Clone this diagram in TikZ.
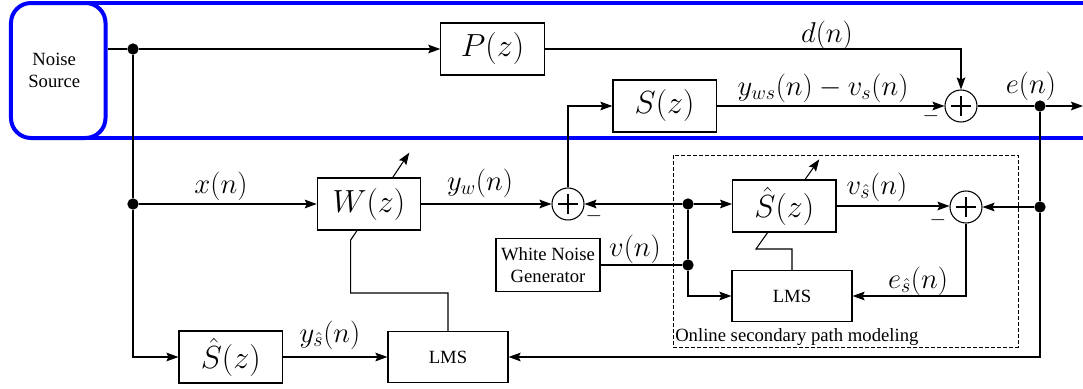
\RequirePackage{fix-cm}
\documentclass[tikz,border=0pt]{standalone}
\usepackage{fontspec}
\newfontfamily\tnr{Liberation Serif}
\usetikzlibrary{arrows.meta,backgrounds}
\newcommand\bxfont{\fontsize{24}{28}\selectfont}
\newcommand\sgfont{\fontsize{21.5}{25}\selectfont}
\newcommand\txfont{\fontsize{14}{16.5}\selectfont\tnr}
\newcommand\mnfont{\fontsize{16}{19}\selectfont}
\tikzset{
  wire/.style={line width=0.8pt},
  arr/.style={wire, -{Stealth[length=9pt,width=6.5pt,inset=1.5pt]}},
  blk/.style={draw, line width=0.9pt, fill=white, inner sep=0pt,
    minimum width=77.5pt, minimum height=39pt, font=\bxfont},
  lms/.style={draw, line width=0.9pt, fill=white, inner sep=0pt,
    minimum width=90pt, minimum height=38.25pt, font=\txfont},
  gen/.style={draw, line width=0.9pt, fill=white, inner sep=0pt,
    minimum width=78pt, minimum height=40pt, align=center, font=\txfont},
  sum/.style={circle, draw, line width=0.8pt, fill=white, inner sep=0pt,
    minimum size=24pt,
    path picture={\draw[line width=0.8pt]
      (path picture bounding box.center) ++(-7.5pt,0) -- ++(15pt,0)
      (path picture bounding box.center) ++(0,-7.5pt) -- ++(0,15pt);}},
  junc/.style={circle, fill, inner sep=0pt, minimum size=8.5pt},
  sig/.style={font=\sgfont, inner sep=0pt},
  neg/.style={font=\mnfont, inner sep=0pt},
}
\begin{document}
\begin{tikzpicture}[x=0.75pt,y=-0.75pt]
\useasboundingbox (0,0) rectangle (1083,389);

% acoustic domain: noise source and the enclosing frame
\node[draw=blue, line width=3pt, rounded corners=15pt, minimum width=70.9pt,
  minimum height=101.25pt, inner sep=0pt, align=center, font=\txfont]
  (src) at (58.25,70.5) {Noise\rule{6pt}{0pt}\\Source\rule{6pt}{0pt}};
\draw[blue, line width=3pt] (85,3) -- (1083,3) (85,138) -- (1083,138);

% blocks
\node[junc] (j1) at (133,49) {};
\node[blk] (P) at (492.5,49) {$P(z)$};
\node[blk] (S) at (664.6,106) {$S(z)$};
\node[sum] (s1) at (961,106) {};
\node[junc] (j2) at (1040,106) {};
\coordinate (eout) at (1083,106);

\node[junc] (j3) at (133,204) {};
\node[blk] (W) at (369,204) {$W(z)$};
\node[sum] (s2) at (568,204) {};
\node[junc] (j4) at (688,204) {};
\node[blk] (Sh1) at (784.3,206) {$\hat S(z)$};
\node[sum] (s3) at (966,207) {};
\node[junc] (j5) at (1040,207) {};
\node[gen] (wng) at (548,265) {White Noise\\Generator};
\node[junc] (j6) at (688,265) {};
\node[lms] (L2) at (792,296) {LMS};
\node[blk] (Sh2) at (230.7,357) {$\hat S(z)$};
\node[lms] (L1) at (448,357) {LMS};

% online secondary path modeling region
\node[draw, dash pattern=on 3pt off 1.5pt, line width=0.6pt,
  minimum width=258.75pt, minimum height=144pt, inner sep=0pt]
  (osp) at (845.5,251) {};
\node[anchor=base west, font=\txfont, inner sep=0pt] (ospl) at (675,341.5)
  {Online secondary path modeling};

% signal paths
\draw[wire] (src.east |- j1) -- (j1);
\draw[arr] (j1) -- (P.west);
\draw[arr] (P.east) -| (s1.north);
\draw[arr] (S.east) -- (s1.west);
\draw[wire] (s1.east) -- (j2);
\draw[arr] (j2) -- (eout);
\draw[wire] (j1) -- (j3);
\draw[arr] (j3) -- (W.west);
\draw[arr] (j3) |- (Sh2.west);
\draw[arr] (W.east) -- (s2.west);
\draw[arr] (s2.north) |- (S.west);
\draw[arr] (j4) -- (s2.east);
\draw[arr] (j4) -- (j4 -| Sh1.west);
\draw[wire] (j4) -- (j6);
\draw[wire] (wng.east) -- (j6);
\draw[arr] (j6) |- (L2.west);
\draw[arr] (Sh1.east) -- (Sh1.east -| s3.west);
\draw[arr] (j5) -- (s3.east);
\draw[arr] (s3.south) |- (L2.east);
\draw[wire] (j2) -- (j5);
\draw[arr] (j5) |- (L1.east);
\draw[arr] (Sh2.east) -- (L1.west);

% adaptation arrows through the adaptive filters
\coordinate (wb0) at (350.7,293);
\coordinate (wb1) at (350.7,240);
\coordinate (wtip) at (409.3,152.7);
\coordinate (sb1) at (756,249);
\coordinate (stip) at (819.3,159.3);
\begin{scope}[on background layer]
  \draw[arr] (L1.north) |- (wb0) -- (wb1) -- (wtip);
  \draw[arr] (L2.north) |- (sb1) -- (stip);
\end{scope}

% signal labels
\node[sig] at (827,35) {$d(n)$};
\node[sig] at (823,88) {$y_{ws}(n)-v_s(n)$};
\node[sig] at (1031,86) {$e(n)$};
\node[sig] at (221,186) {$x(n)$};
\node[sig] at (480,183) {$y_w(n)$};
\node[sig] at (330,335) {$y_{\hat s}(n)$};
\node[sig] at (635,249) {$v(n)$};
\node[sig] at (877,187) {$v_{\hat s}(n)$};
\node[sig] at (918,281) {$e_{\hat s}(n)$};
\node[neg] at (931,116) {$-$};
\node[neg] at (594,216) {$-$};
\node[neg] at (938,220) {$-$};
\end{tikzpicture}
\end{document}
